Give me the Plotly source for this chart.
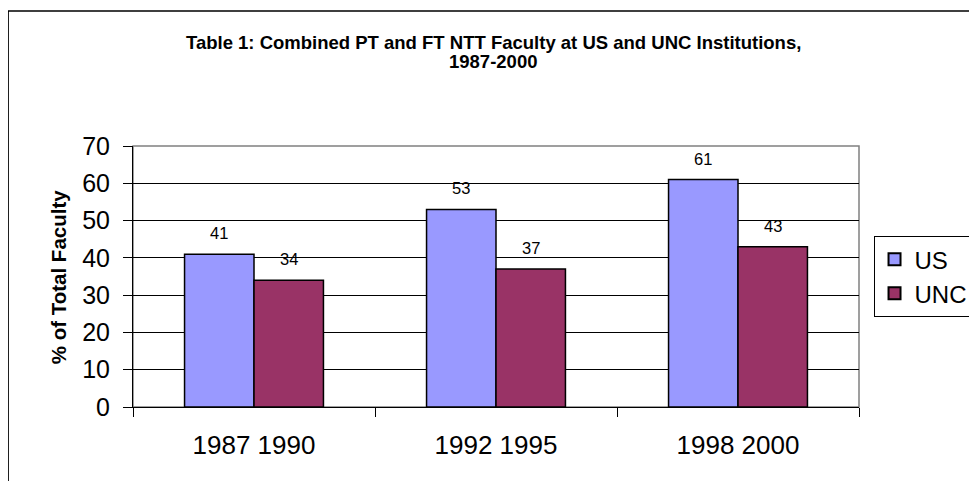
import plotly.graph_objects as go

# Data
CATEGORIES = ["1987 1990", "1992 1995", "1998 2000"]
US = [41, 53, 61]
UNC = [34, 37, 43]
Y_TICKS = [0, 10, 20, 30, 40, 50, 60, 70]

TITLE_LINES = ["Table 1: Combined PT and FT NTT Faculty at US and UNC Institutions,", "1987-2000"]
Y_TITLE = "% of Total Faculty"

COLORS = {"US": "#9999FF", "UNC": "#993366"}
FONT = "Liberation Sans, Arial, sans-serif"
NARROW = "Liberation Sans Narrow, Arial Narrow, Liberation Sans, Arial, sans-serif"


def create_figure():
    fig = go.Figure()

    for name, vals in (("US", US), ("UNC", UNC)):
        fig.add_trace(
            go.Bar(
                x=CATEGORIES,
                y=vals,
                name=name,
                marker=dict(color=COLORS[name], line=dict(color="black", width=1.5)),
            )
        )

    # value labels above bars
    for name, vals, shift in (("US", US, -35), ("UNC", UNC, 35)):
        for cat, v in zip(CATEGORIES, vals):
            fig.add_annotation(
                x=cat, y=v, text=str(v), showarrow=False,
                xshift=shift, yshift=21,
                font=dict(family=FONT, size=16.5, color="black"),
            )

    # title, one annotation per line (tighter line spacing than plotly's title)
    for line, ypos in zip(TITLE_LINES, (1.395, 1.322)):
        fig.add_annotation(
            xref="paper", yref="paper", x=0.496, y=ypos,
            xanchor="center", yanchor="middle",
            text=f"<b>{line}</b>", showarrow=False,
            font=dict(family=NARROW, size=18.5, color="black"),
        )

    # y axis title
    fig.add_annotation(
        xref="paper", yref="paper", x=-0.103, y=0.498,
        xanchor="center", yanchor="middle",
        text=f"<b>{Y_TITLE}</b>", textangle=-90, showarrow=False,
        font=dict(family=FONT, size=20.5, color="black"),
    )

    # plot area border (gray) and outer chart border
    fig.add_shape(type="rect", xref="paper", yref="paper", x0=0, y0=0, x1=1, y1=1,
                  line=dict(color="#808080", width=1.5), layer="below")
    fig.add_shape(type="rect", xref="paper", yref="paper", x0=-0.172, y0=-0.4, x1=1.3, y1=1.517,
                  line=dict(color="black", width=1.5))

    fig.update_layout(
        barmode="group",
        bargap=0.426,
        bargroupgap=0,
        xaxis=dict(
            type="category",
            showline=True, linecolor="black", linewidth=1,
            ticks="outside", ticklen=9, tickcolor="black", tickson="boundaries",
            tickfont=dict(family=FONT, size=26, color="black"),
            ticklabelstandoff=15,
            showgrid=False,
        ),
        yaxis=dict(
            range=[0, 70],
            tickvals=Y_TICKS,
            showline=True, linecolor="black", linewidth=1,
            ticks="outside", ticklen=9, tickcolor="black",
            tickfont=dict(family=FONT, size=25, color="black"),
            ticklabelstandoff=8,
            showgrid=True, gridcolor="black", gridwidth=1,
            zeroline=False,
        ),
        legend=dict(
            x=1.02, y=0.655, xanchor="left", yanchor="top",
            bordercolor="black", borderwidth=1,
            font=dict(family=FONT, size=24, color="black"),
            itemsizing="constant",
            tracegroupgap=0,
        ),
        plot_bgcolor="white",
        paper_bgcolor="white",
        margin=dict(l=125, r=118, t=138, b=74, autoexpand=False),
        width=969,
        height=473,
    )
    return fig


def main():
    fig = create_figure()
    fig.write_html("out.html")


if __name__ == "__main__":
    main()
